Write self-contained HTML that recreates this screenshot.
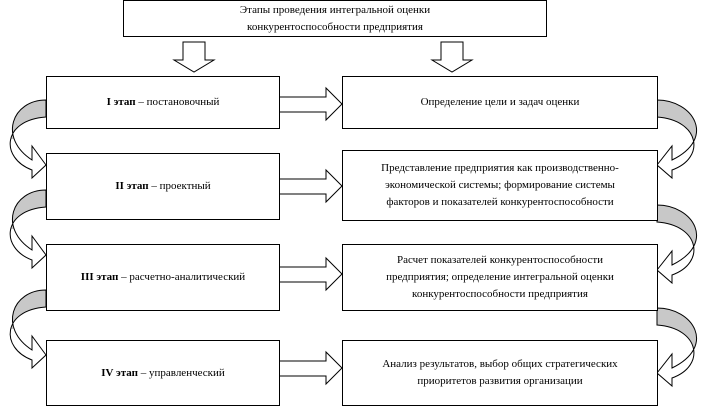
<!DOCTYPE html>
<html><head><meta charset="utf-8"><style>
body{margin:0;background:#fff;width:715px;height:411px;overflow:hidden;font-family:"Liberation Serif","DejaVu Serif",serif;}
.b{position:absolute;border:1px solid #000;background:#fff;box-sizing:border-box;display:flex;align-items:center;justify-content:center;text-align:center;font-size:11px;line-height:17px;color:#000}
svg{position:absolute;left:0;top:0}
</style></head><body>
<svg width="715" height="411">
<defs>
<linearGradient id="g" x1="0" y1="0" x2="0" y2="1">
<stop offset="0" stop-color="#c8c8c8"/><stop offset="0.5" stop-color="#c8c8c8"/><stop offset="0.5" stop-color="#fff"/><stop offset="1" stop-color="#fff"/></linearGradient>
</defs>
<g fill="#fff" stroke="#000" stroke-width="1">
<polygon points="183,42 205,42 205,60 214,60 194,72 174,60 183,60"/>
<polygon points="441,42 463,42 463,60 472,60 452,72 432,60 441,60"/>
<g id="h"><polygon points="279,97 326,97 326,88 342,104 326,120 326,112 279,112"/></g>
<use href="#h" y="82"/><use href="#h" y="170"/><use href="#h" y="264"/>
<g id="L"><path d="M46,100 C12,100 -2,138 32,160 L32,146 L46,165 L32,178 L32,170 C0,158 2,120 46,117 Z" fill="url(#g)"/></g>
<use href="#L" y="90"/><use href="#L" y="190"/>
<g id="R"><path d="M657,100 C693,100 717,138 672,160 L672,146 L657,165 L672,178 L672,170 C706,158 700,120 657,117 Z" fill="url(#g)"/></g>
<use href="#R" y="105"/><use href="#R" y="208"/>
</g>
</svg>
<div class="b" style="left:123px;top:0;width:424px;height:37px">Этапы проведения интегральной оценки<br>конкурентоспособности предприятия</div>
<div class="b" style="left:46px;top:76px;width:234px;height:53px"><span><b>I этап</b> – постановочный</span></div>
<div class="b" style="left:46px;top:153px;width:234px;height:67px"><span><b>II этап</b> – проектный</span></div>
<div class="b" style="left:46px;top:244px;width:234px;height:67px"><span><b>III этап</b> – расчетно-аналитический</span></div>
<div class="b" style="left:46px;top:340px;width:234px;height:66px"><span><b>IV этап</b> – управленческий</span></div>
<div class="b" style="left:342px;top:76px;width:316px;height:53px">Определение цели и задач оценки</div>
<div class="b" style="left:342px;top:150px;width:316px;height:71px">Представление предприятия как производственно-<br>экономической системы; формирование системы<br>факторов и показателей конкурентоспособности</div>
<div class="b" style="left:342px;top:244px;width:316px;height:67px">Расчет показателей конкурентоспособности<br>предприятия; определение интегральной оценки<br>конкурентоспособности предприятия</div>
<div class="b" style="left:342px;top:340px;width:316px;height:66px">Анализ результатов, выбор общих стратегических<br>приоритетов развития организации</div>
</body></html>
